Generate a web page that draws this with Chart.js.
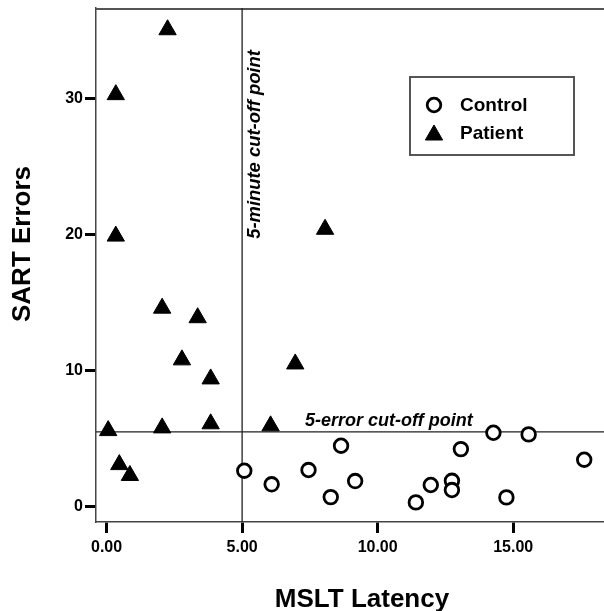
<!DOCTYPE html>
<html>
<head>
<meta charset="utf-8">
<script src="https://cdn.jsdelivr.net/npm/chart.js@4.4.1/dist/chart.umd.min.js"></script>
<style>
  html, body { margin: 0; padding: 0; background: #fff; }
  canvas { display: block; }
</style>
</head>
<body>
<canvas id="myChart" width="604" height="611"></canvas>
<script>
// values
const controlX = [5.08, 6.09, 7.45, 8.27, 8.65, 9.17, 11.41, 11.96, 12.74, 12.74, 13.07, 14.27, 14.75, 15.57, 17.62];
const controlY = [2.65, 1.65, 2.70, 0.71, 4.49, 1.89, 0.32, 1.60, 1.91, 1.23, 4.24, 5.44, 0.69, 5.32, 3.46];

const patientX = [2.25, 0.34, 0.34, 8.06, 2.05, 3.36, 2.78, 3.84, 6.96, 0.06, 2.05, 3.84, 6.05, 0.47, 0.86];
const patientY = [35.07, 30.3, 19.9, 20.4, 14.6, 13.9, 10.8, 9.4, 10.5, 5.6, 5.8, 6.1, 5.95, 3.1, 2.3];

const xTicks = [0, 5, 10, 15];
const yTicks = [0, 10, 20, 30];
const xRange = [-0.39, 18.35];
const yRange = [-1.12, 36.67];

const minuteCutoff = 5;
const errorCutoff = 5.5;

const seriesNames = ['Control', 'Patient'];
const xTitle = 'MSLT Latency';
const yTitle = 'SART Errors';
const minuteLabel = '5-minute cut-off point';
const errorLabel = '5-error cut-off point';

const FONT = 'Arial, "Liberation Sans", sans-serif';

const toPoints = (xs, ys) => xs.map((x, i) => ({x: x, y: ys[i]}));

const extras = {
	id: 'extras',
	beforeDatasetsDraw(chart) {
		const {ctx, chartArea: a, scales: {x, y}} = chart;
		ctx.save();
		// top frame line
		ctx.strokeStyle = '#555';
		ctx.lineWidth = 2;
		ctx.beginPath();
		ctx.moveTo(a.left, a.top + 1);
		ctx.lineTo(a.right, a.top + 1);
		ctx.stroke();

		// cut-off lines
		ctx.strokeStyle = '#222';
		ctx.lineWidth = 1.3;
		const vx = x.getPixelForValue(minuteCutoff);
		const hy = y.getPixelForValue(errorCutoff);
		ctx.beginPath();
		ctx.moveTo(vx, a.top);
		ctx.lineTo(vx, a.bottom);
		ctx.moveTo(a.left, hy);
		ctx.lineTo(a.right, hy);
		ctx.stroke();

		ctx.fillStyle = '#000';
		ctx.font = 'italic bold 18px ' + FONT;
		ctx.textBaseline = 'alphabetic';
		ctx.textAlign = 'left';
		ctx.fillText(errorLabel, x.getPixelForValue(7.32), hy - 6);

		ctx.save();
		ctx.translate(vx + 18, y.getPixelForValue(19.7));
		ctx.rotate(-Math.PI / 2);
		ctx.font = 'italic bold 18.4px ' + FONT;
		ctx.fillText(minuteLabel, 0, 0);
		ctx.restore();

		// axis titles
		ctx.font = 'bold 26px ' + FONT;
		ctx.textAlign = 'center';
		ctx.fillText(xTitle, 362, 607);
		ctx.save();
		ctx.translate(30, 244);
		ctx.rotate(-Math.PI / 2);
		ctx.fillText(yTitle, 0, 0);
		ctx.restore();
		ctx.restore();
	},
	afterDraw(chart) {
		const {ctx} = chart;
		ctx.save();
		// legend box
		ctx.strokeStyle = '#555';
		ctx.lineWidth = 2;
		ctx.strokeRect(410, 77, 164, 78);
		ctx.font = 'bold 19px ' + FONT;
		ctx.textAlign = 'left';
		ctx.textBaseline = 'middle';
		chart.data.datasets.forEach((ds, i) => {
			const cy = 105 + i * 28;
			ctx.fillStyle = ds.backgroundColor;
			ctx.strokeStyle = ds.borderColor;
			ctx.lineWidth = ds.borderWidth;
			Chart.helpers.drawPoint(ctx, {
				pointStyle: ds.pointStyle,
				radius: ds.pointRadius,
				borderWidth: ds.borderWidth,
				rotation: 0
			}, 434, cy + (i === 1 ? 2 : 0));
			ctx.fillStyle = '#000';
			ctx.fillText(ds.label, 460, cy + 1);
		});
		ctx.restore();
	}
};

const ctx = document.getElementById('myChart');
const plot = new Chart(ctx, {
	type: 'scatter',
	data: {
		datasets: [{
			label: seriesNames[0],
			data: toPoints(controlX, controlY),
			pointStyle: 'circle',
			pointRadius: 6.8,
			borderWidth: 2.8,
			borderColor: '#000',
			backgroundColor: '#fff'
		}, {
			label: seriesNames[1],
			data: toPoints(patientX, patientY),
			pointStyle: 'triangle',
			pointRadius: 10,
			borderWidth: 1,
			borderColor: '#000',
			backgroundColor: '#000'
		}]
	},
	options: {
		responsive: false,
		animation: false,
		layout: { autoPadding: false, padding: { top: 8, right: 0, left: 0, bottom: 0 } },
		plugins: {
			legend: { display: false },
			tooltip: { enabled: false }
		},
		scales: {
			x: {
				type: 'linear',
				min: xRange[0],
				max: xRange[1],
				afterBuildTicks: s => { s.ticks = xTicks.map(v => ({value: v})); },
				afterFit: s => { s.height = 89; s.paddingLeft = 0; s.paddingRight = 0; },
				grid: { drawOnChartArea: false, tickLength: 11, tickWidth: 3, tickColor: '#000' },
				border: { color: '#444', width: 1.5 },
				ticks: {
					padding: 5,
					color: '#000',
					font: { family: FONT, size: 16, weight: 'bold' },
					callback: v => v.toFixed(2)
				}
			},
			y: {
				type: 'linear',
				min: yRange[0],
				max: yRange[1],
				afterBuildTicks: s => { s.ticks = yTicks.map(v => ({value: v})); },
				afterFit: s => { s.width = 96; s.paddingTop = 0; s.paddingBottom = 0; },
				grid: { drawOnChartArea: false, tickLength: 11, tickWidth: 3, tickColor: '#000' },
				border: { color: '#444', width: 1.5 },
				ticks: {
					padding: 2,
					color: '#000',
					font: { family: FONT, size: 16, weight: 'bold' }
				}
			}
		}
	},
	plugins: [extras]
});
</script>
</body>
</html>
